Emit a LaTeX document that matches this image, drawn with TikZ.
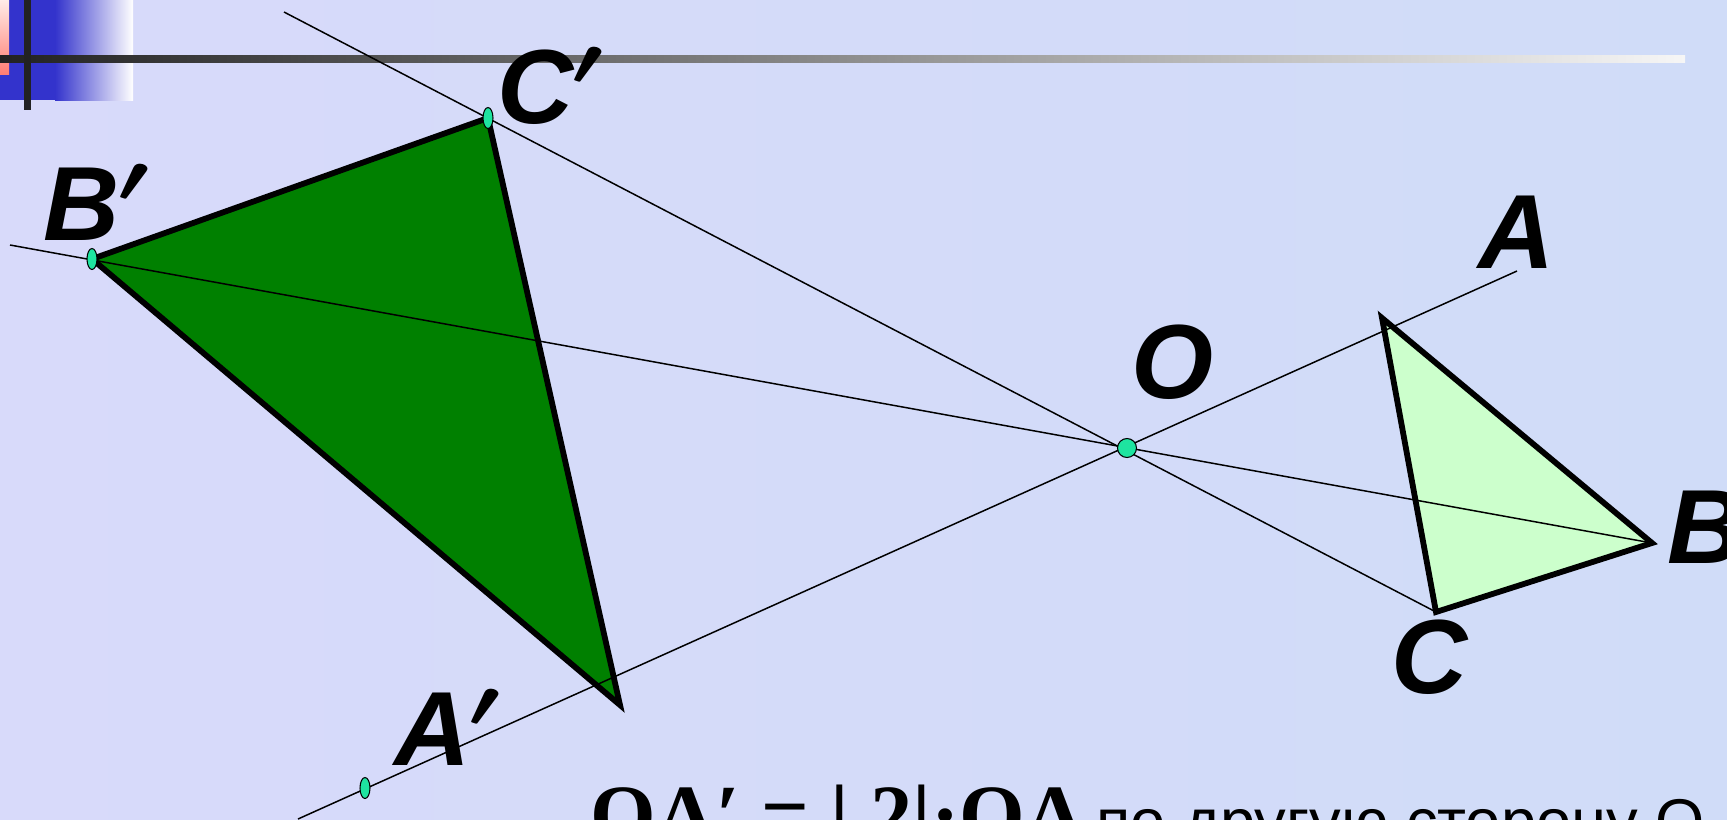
\documentclass[tikz,border=0pt]{standalone}
\usepackage{fontspec}
\setmainfont{Liberation Sans}
\newfontfamily\timesfont{Liberation Serif}
\newcommand{\pr}{\kern-1pt\raisebox{22pt}{\resizebox{18pt}{21pt}{\boldmath$\prime$}}}
\definecolor{bigfill}{RGB}{0,128,0}
\definecolor{smallfill}{RGB}{204,255,204}
\definecolor{dotfill}{RGB}{30,228,160}
\definecolor{barblue}{RGB}{51,51,204}
\definecolor{bardark}{RGB}{34,34,34}
\definecolor{barlight}{RGB}{246,246,246}
\definecolor{pinktop}{RGB}{255,236,232}
\definecolor{pinkbot}{RGB}{255,125,115}
\definecolor{bgleft}{RGB}{216,218,250}
\definecolor{bgmid}{RGB}{200,225,250}
\definecolor{bgright}{RGB}{208,220,248}

\begin{document}
\begin{tikzpicture}[
        x=0.02cm, y=-0.02cm,
        ray/.style={draw=black, line width=0.85pt},
        tri/.style={draw=black, line width=3.3pt, line join=miter},
        dotst/.style={draw=black, line width=0.6pt, fill=dotfill},
        lbl/.style={font=\fontsize{60}{64}\selectfont\bfseries\itshape, inner sep=0pt, anchor=base}
    ]
    \useasboundingbox (0,0) rectangle (1727,819);
    \shade[left color=bgleft, middle color=bgmid, right color=bgright] (0,0) rectangle (1727,819);

    \fill[barblue] (0,0) rectangle (55,100);
    \shade[left color=barblue, right color=white] (55,0) rectangle (133,100);
    \shade[top color=pinktop, bottom color=pinkbot] (0,0) rectangle (9,74);
    \shade[left color=bardark, right color=barlight] (0,55) rectangle (1685,62);
    \fill[bardark] (24,0) rectangle (31,110);

    \coordinate (O) at (1127,448);
    \coordinate (A) at (1382,318);
    \coordinate (B) at (1652,543);
    \coordinate (C) at (1436,612);
    \coordinate (Ap) at (620,705);
    \coordinate (Bp) at (92,259);
    \coordinate (Cp) at (488,118);
    \coordinate (Am) at (365,788);
    \coordinate (aend) at (298,819);
    \coordinate (atip) at (1517,271);
    \coordinate (bend) at (10,245);
    \coordinate (cend) at (284,12);

    \filldraw[tri, fill=bigfill] (Bp) -- (Cp) -- (Ap) -- cycle;
    \filldraw[tri, fill=smallfill] (A) -- (B) -- (C) -- cycle;

    \draw[ray] (aend) -- (atip);
    \draw[ray] (bend) -- (B);
    \draw[ray] (cend) -- (C);

    \draw[dotst] (Bp) ellipse [x radius=0.1cm, y radius=0.21cm];
    \draw[dotst] (Cp) ellipse [x radius=0.1cm, y radius=0.21cm];
    \draw[dotst] (Am) ellipse [x radius=0.1cm, y radius=0.21cm];
    \draw[dotst] (O) circle [radius=0.19cm];

    \node[lbl] (lA) at (1517,268) {A};
    \node[lbl] (lB) at (1706,563) {B};
    \node[lbl] (lC) at (1430,693) {C};
    \node[lbl] (lO) at (1172,398) {O};
    \node[lbl] (lAp) at (447,765) {A\pr};
    \node[lbl] (lBp) at (96,240) {B\pr};
    \node[lbl] (lCp) at (550,123) {C\pr};

    \node[anchor=base west, inner sep=0pt] (rule) at (590,843)
        {{\timesfont\bfseries\fontsize{48}{52}\selectfont OA′ = | 2|·OA}\hspace{6pt}{\fontsize{36}{40}\selectfont по другую сторону О}};
\end{tikzpicture}
\end{document}
